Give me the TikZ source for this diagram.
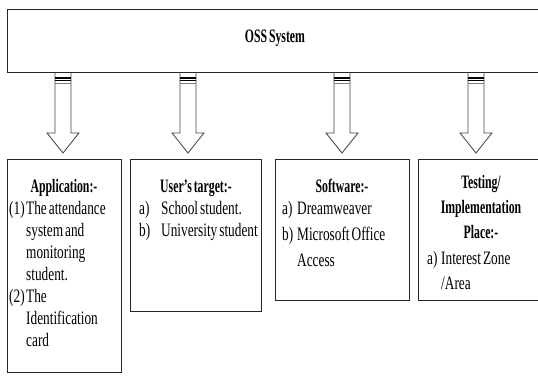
\documentclass[tikz,border=0pt]{standalone}
\usepackage{fontspec}
\setmainfont{Liberation Serif}[FakeStretch=0.7,WordSpace=0.6,BoldFeatures={FakeStretch=0.62}]
\usetikzlibrary{calc}

\begin{document}
\begin{tikzpicture}[x=1pt,y=-1pt,
  panel/.style={draw=black!85,line width=1.2pt,inner sep=0pt,anchor=north west},
  hollow/.style={draw=black!75,line width=0.8pt,fill=white},
  head/.style={font=\fontsize{19}{22}\selectfont\bfseries,anchor=base,inner sep=0pt},
  txt/.style={font=\fontsize{19}{22}\selectfont,anchor=base west,inner sep=0pt}]
\useasboundingbox (0,0) rectangle (538,383);
\clip (0,0) rectangle (538,383);

% top block
\node[panel,minimum width=545pt,minimum height=63pt] (oss) at (7,9) {};
\node[head] (ossT) at (275,42) {OSS System};

% lower blocks
\node[panel,minimum width=114pt,minimum height=213pt] (app) at (7,159) {};
\node[panel,minimum width=131pt,minimum height=152pt] (usr) at (130,159) {};
\node[panel,minimum width=134pt,minimum height=141pt] (soft) at (275,159) {};
\node[panel,minimum width=130pt,minimum height=141pt] (test) at (418,159) {};

% hollow arrows
\foreach \x/\t in {63/app,188/usr,342/soft,476/test}{
  \coordinate (c-\t) at (\x,0);
  \coordinate (from) at (c-\t |- oss.south);
  \coordinate (to) at (c-\t |- \t.north);
  \draw[hollow] ([xshift=-8pt]from) -- ([xshift=-8pt,yshift=26pt]to)
    -- ([xshift=-16pt,yshift=26pt]to) -- ([yshift=6pt]to)
    -- ([xshift=16pt,yshift=26pt]to) -- ([xshift=8pt,yshift=26pt]to)
    -- ([xshift=8pt]from);
  \draw[line width=2pt] ([xshift=-8pt,yshift=-4.5pt]from) -- ([xshift=8pt,yshift=-4.5pt]from);
  \draw[line width=0.6pt] ([xshift=-8pt,yshift=-7.5pt]from) -- ([xshift=8pt,yshift=-7.5pt]from);
  \draw[black!50,line width=0.6pt] ([xshift=-8pt,yshift=-10pt]from) -- ([xshift=8pt,yshift=-10pt]from);
}

% Application
\node[head] (appT) at (64,192) {Application:-};
\node[txt] (app-l1) at (9,214) {(1)};
\node[txt] (app-l2) at (9,302) {(2)};
\foreach \s [count=\i from 0] in {The attendance,system and,monitoring,student.,The,Identification,card}
  \node[txt] (app-\i) at (26,214+22*\i) {\s};

% User's target
\node[head] (usrT) at (196,192) {User’s target:-};
\node[txt] (usr-a) at (139,214) {a)};
\node[txt] (usr-b) at (139,236) {b)};
\node[txt] (usr-1) at (161,214) {School student.};
\node[txt] (usr-2) at (161,236) {University student};

% Software
\node[head] (softT) at (342,192) {Software:-};
\node[txt] (soft-a) at (282,214) {a)};
\node[txt] (soft-b) at (282,240) {b)};
\node[txt] (soft-1) at (297,214) {Dreamweaver};
\node[txt] (soft-2) at (297,240) {Microsoft Office};
\node[txt] (soft-3) at (297,266) {Access};

% Testing
\node[head] (testT1) at (481,188) {Testing/};
\node[head] (testT2) at (481,213) {Implementation};
\node[head] (testT3) at (481,238) {Place:-};
\node[txt] (test-a) at (427,264) {a)};
\node[txt] (test-1) at (441,264) {Interest Zone};
\node[txt] (test-2) at (441,289) {/Area};
\end{tikzpicture}
\end{document}
